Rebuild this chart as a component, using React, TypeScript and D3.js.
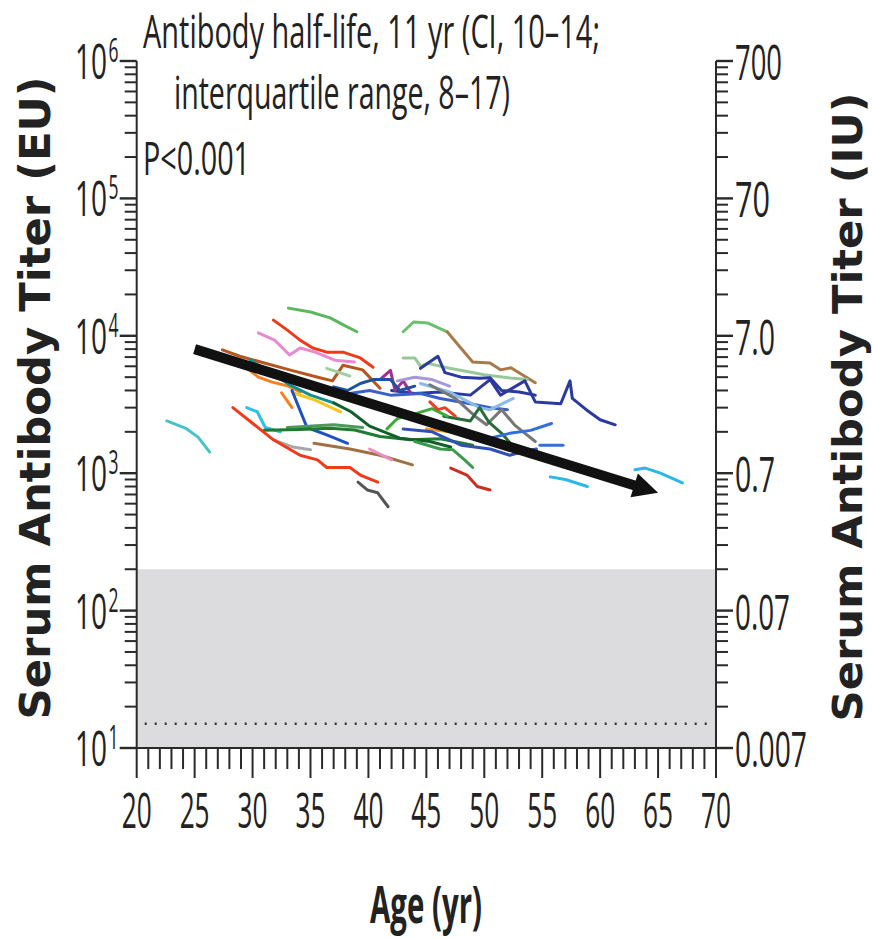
import React from 'react';
import * as d3 from 'd3';

// ---------- data ----------
const ageTicks = [20, 25, 30, 35, 40, 45, 50, 55, 60, 65, 70];
const ageMinorTicks = d3.range(20, 71, 1);
const euDecades = [10, 100, 1000, 10000, 100000, 1000000];
const euExponents = ['1', '2', '3', '4', '5', '6'];
const iuLabels = ['0.007', '0.07', '0.7', '7.0', '70', '700'];
const iuLabelWidths = [72, 55, 40, 40, 35, 47];
const shadeTiter = 200;
const dottedTiter = 15;
const trendAges = [25, 65];
const trendTiters = [8000, 720];
const titleLines = ['Antibody half-life, 11 yr (CI, 10\u201314;', 'interquartile range, 8\u201317)', 'P<0.001'];

const subjectColors = [
  '#45c4c8', '#5cb85c', '#ee3b1c', '#e88ad0', '#b4561e', '#f4801f', '#f4801f', '#109090',
  '#f5c518', '#2050c0', '#2ec0e8', '#4a9a5a', '#1e7b32', '#11602a', '#a8a8a8', '#ee3b1c',
  '#555555', '#a07040', '#e890c0', '#6cbf6c', '#a87a4a', '#98c898', '#2b3aa0', '#2b3aa0',
  '#3a60c8', '#88bce8', '#777777', '#2a6b3a', '#3070d8', '#3070d8', '#2ab8ea', '#2ab8ea',
  '#c83020', '#3a9a4a', '#a03090', '#a898d8', '#3aaa3a', '#f49a20', '#e84020', '#3050b8',
  '#a0d0a0', '#2050a0',
];

const subjectSeries: [number, number][][] = [
  [[22.6, 2400], [24.2, 2130], [25.3, 1830], [26.3, 1425]],
  [[33.1, 15900], [35.0, 14900], [36.7, 13500], [38.0, 11800], [39.0, 10700]],
  [[31.8, 13000], [33.0, 11000], [34.1, 9300], [35.2, 8150], [36.4, 7600], [37.8, 7600], [39.3, 6900], [40.4, 5900]],
  [[30.5, 10500], [31.9, 9300], [33.2, 7250], [34.1, 8150], [35.4, 7600], [37.1, 6650], [38.8, 6450]],
  [[27.4, 7900], [28.9, 7100], [30.7, 6450], [33.2, 5650], [35.8, 4950], [36.9, 4700], [37.8, 6100], [39.5, 5650], [41.0, 4150]],
  [[29.5, 5850], [30.5, 5000], [31.7, 4600], [33.1, 4300], [34.1, 3900]],
  [[32.5, 3850], [33.4, 3000]],
  [[29.8, 6650], [31.5, 5450], [33.2, 4400], [35.0, 3700], [37.0, 3250]],
  [[33.5, 3850], [35.4, 3400], [37.6, 2800]],
  [[33.4, 4000], [34.7, 2150], [36.4, 1900], [38.2, 1650]],
  [[29.5, 3000], [30.4, 2800], [31.1, 2150], [32.4, 2000]],
  [[33.0, 2150], [37.0, 2250], [39.5, 2150]],
  [[31.0, 2050], [34.1, 2080], [36.7, 2120], [38.8, 2060], [41.0, 1850], [43.6, 1750], [46.2, 1780], [49.0, 1600]],
  [[37.0, 3250], [38.5, 2800], [40.1, 2200], [42.7, 1800], [45.3, 1700], [47.1, 1550]],
  [[31.8, 1750], [33.5, 1550], [35.0, 1480]],
  [[28.3, 3000], [31.8, 1750], [34.1, 1350], [35.6, 1250], [36.4, 1100], [38.4, 1100], [39.3, 970], [40.8, 860]],
  [[39.1, 860], [39.9, 755], [40.8, 720], [41.7, 570]],
  [[35.3, 1650], [38.4, 1500], [41.0, 1350], [43.8, 1150]],
  [[40.1, 1500], [42.0, 1250]],
  [[43.0, 10700], [43.9, 12600], [45.1, 12400], [46.8, 10700]],
  [[46.8, 10700], [47.9, 8300], [49.0, 6450], [50.5, 6350], [51.4, 5650], [52.3, 5850], [53.7, 4950], [54.4, 4550]],
  [[43.0, 6900], [44.0, 6900], [44.5, 6000], [45.1, 6300], [47.0, 5800], [50.0, 5200], [52.5, 4900], [53.7, 4800]],
  [[44.5, 5800], [46.0, 7100], [46.6, 5400], [48.0, 5000], [49.6, 4900], [50.5, 4950], [51.5, 4000], [53.0, 3900], [54.4, 3700]],
  [[42.0, 4000], [44.0, 3800], [46.2, 3900], [48.8, 3700], [50.5, 4800], [51.4, 3700], [53.5, 4700], [54.4, 3300], [56.6, 3200], [57.4, 4700], [57.6, 3500], [58.8, 2900], [60.0, 2450], [61.3, 2250]],
  [[38.4, 3800], [40.1, 4000], [41.9, 3700], [44.5, 3800], [46.2, 3500], [48.8, 3200], [50.5, 3000], [52.0, 2900]],
  [[44.5, 4500], [47.0, 3900], [49.6, 3000], [50.5, 2900], [52.5, 3500]],
  [[45.3, 4400], [47.5, 3500], [49.2, 2600], [50.2, 2250], [51.5, 2900], [52.6, 2250], [54.4, 1700]],
  [[46.5, 2600], [48.8, 2400], [49.6, 3000], [50.4, 2350], [51.5, 1950], [53.0, 1400]],
  [[50.5, 1800], [52.2, 1950], [54.0, 2050], [55.8, 2300]],
  [[54.8, 1600], [56.8, 1600]],
  [[55.7, 940], [57.0, 900], [58.9, 800]],
  [[63.0, 1060], [63.9, 1090], [65.2, 1000], [67.1, 850]],
  [[47.1, 1090], [48.5, 970], [49.4, 800], [50.5, 755]],
  [[44.0, 1700], [46.2, 1500], [47.3, 1480], [48.3, 1250], [49.0, 1100]],
  [[41.0, 4800], [41.9, 5600], [42.3, 4000], [43.0, 4700], [43.6, 3900]],
  [[42.5, 4700], [44.0, 5000], [45.5, 4800], [47.0, 4300]],
  [[41.6, 2100], [42.5, 2500], [44.0, 2700], [45.5, 2950], [46.8, 2600]],
  [[45.0, 2100], [47.0, 2000], [48.0, 1950]],
  [[45.3, 3300], [46.0, 2900], [46.6, 3000], [47.5, 2600]],
  [[43.0, 2100], [45.5, 2000], [48.0, 1600], [50.5, 1500], [52.2, 1350], [53.5, 1450], [54.5, 1500]],
  [[36.4, 5800], [38.4, 5100]],
  [[37.0, 4250], [38.2, 4000], [39.3, 4500], [40.4, 4800], [41.9, 4800], [42.7, 4000], [44.0, 4300]],
];

// ---------- chart ----------
const W = 872;
const H = 939;
const X0 = 136.7;
const X1 = 716;
const YB = 748;
const YT = 61;
const FONT = "'Open Sans', 'DejaVu Sans', sans-serif";
const BOLD = "'DejaVu Sans', sans-serif";
const AX = '#2a2a2a';

export default function App() {
  const x = d3.scaleLinear().domain([20, 70]).range([X0, X1]);
  const y = d3.scaleLog().domain([10, 1e6]).range([YB, YT]);
  const line = d3.line<[number, number]>().x(d => x(d[0])).y(d => y(d[1]));

  const minorY: number[] = [];
  euDecades.slice(0, -1).forEach(d => {
    for (let k = 2; k <= 9; k++) minorY.push(d * k);
  });

  // trend arrow
  const tx0 = x(trendAges[0]), ty0 = y(trendTiters[0]);
  const tx1 = x(trendAges[1]), ty1 = y(trendTiters[1]);
  const ang = Math.atan2(ty1 - ty0, tx1 - tx0);
  const headLen = 25, headHalf = 12.5;
  const bx = tx1 - headLen * Math.cos(ang), by = ty1 - headLen * Math.sin(ang);
  const px = -Math.sin(ang), py = Math.cos(ang);
  const head = [
    [tx1, ty1],
    [bx + headHalf * px, by + headHalf * py],
    [bx - headHalf * px, by - headHalf * py],
  ];
  const lx1 = tx1 - (headLen - 4) * Math.cos(ang), ly1 = ty1 - (headLen - 4) * Math.sin(ang);

  return (
    <svg width={W} height={H} style={{ display: 'block', position: 'absolute', left: 0, top: 0, background: '#fff' }}>
      {/* shaded region */}
      <rect x={X0} y={y(shadeTiter)} width={X1 - X0} height={YB - y(shadeTiter)} fill="#dcdcdf" />
      <line x1={X0 + 8} x2={X1 - 4} y1={y(dottedTiter)} y2={y(dottedTiter)} stroke="#333" strokeWidth={2.5} strokeDasharray="2 8" />

      {/* subject lines */}
      {subjectSeries.map((s, i) => (
        <path key={i} d={line(s) || ''} fill="none" stroke={subjectColors[i]} strokeWidth={3} strokeLinejoin="round" strokeLinecap="round" />
      ))}

      {/* trend arrow */}
      <line x1={tx0} y1={ty0} x2={lx1} y2={ly1} stroke="#111" strokeWidth={10} />
      <polygon points={head.map(p => p.join(',')).join(' ')} fill="#111" />

      {/* axes */}
      <line x1={X0} x2={X0} y1={YT} y2={YB} stroke={AX} strokeWidth={2} />
      <line x1={X1} x2={X1} y1={YT} y2={YB} stroke={AX} strokeWidth={2} />
      <line x1={X0} x2={X1} y1={YB} y2={YB} stroke={AX} strokeWidth={2} />

      {/* y ticks */}
      {minorY.map((v, i) => (
        <g key={'m' + i}>
          <line x1={X0 - 12} x2={X0} y1={y(v)} y2={y(v)} stroke={AX} strokeWidth={2} />
          <line x1={X1} x2={X1 + 12} y1={y(v)} y2={y(v)} stroke={AX} strokeWidth={2} />
        </g>
      ))}
      {euDecades.map((v, i) => (
        <g key={'d' + i}>
          <line x1={X0 - 17} x2={X0} y1={y(v)} y2={y(v)} stroke={AX} strokeWidth={2.4} />
          <line x1={X1} x2={X1 + 17} y1={y(v)} y2={y(v)} stroke={AX} strokeWidth={2.4} />
          <text x={107} y={y(v) + 18} fontFamily={FONT} fontSize={50} textAnchor="end" textLength={32} lengthAdjust="spacingAndGlyphs" fill="#222">10</text>
          <text x={108.5} y={y(v) + 1} fontFamily={FONT} fontSize={33} textLength={10} lengthAdjust="spacingAndGlyphs" fill="#222">{euExponents[i]}</text>
          <text x={735} y={y(v) + 19} fontFamily={FONT} fontSize={50} textLength={iuLabelWidths[i]} lengthAdjust="spacingAndGlyphs" fill="#222">{iuLabels[i]}</text>
        </g>
      ))}

      {/* x ticks */}
      {ageMinorTicks.map(a => (
        <line key={'xm' + a} x1={x(a)} x2={x(a)} y1={YB} y2={YB + (a % 5 === 0 ? 30 : 21)} stroke={AX} strokeWidth={2} />
      ))}
      {ageTicks.map(a => (
        <text key={'xl' + a} x={x(a)} y={828} fontFamily={FONT} fontSize={50} textAnchor="middle" textLength={30} lengthAdjust="spacingAndGlyphs" fill="#222">{a}</text>
      ))}

      {/* titles */}
      <text x={143} y={48} fontFamily={FONT} fontSize={46} textLength={457} lengthAdjust="spacingAndGlyphs" fill="#222">{titleLines[0]}</text>
      <text x={174} y={109} fontFamily={FONT} fontSize={46} textLength={336} lengthAdjust="spacingAndGlyphs" fill="#222">{titleLines[1]}</text>
      <text x={143} y={175} fontFamily={FONT} fontSize={46} textLength={107} lengthAdjust="spacingAndGlyphs" fill="#222">{titleLines[2]}</text>

      <text x={426} y={923} fontFamily={FONT} fontWeight={700} fontSize={52} textAnchor="middle" textLength={112} lengthAdjust="spacingAndGlyphs" fill="#222">Age (yr)</text>

      <text transform="translate(50,398) rotate(-90)" fontFamily={BOLD} fontWeight={700} fontSize={42} textAnchor="middle" textLength={643} lengthAdjust="spacingAndGlyphs" fill="#222">Serum Antibody Titer (EU)</text>
      <text transform="translate(862,407) rotate(-90)" fontFamily={BOLD} fontWeight={700} fontSize={40} textAnchor="middle" textLength={629} lengthAdjust="spacingAndGlyphs" fill="#222">Serum Antibody Titer (IU)</text>
    </svg>
  );
}
